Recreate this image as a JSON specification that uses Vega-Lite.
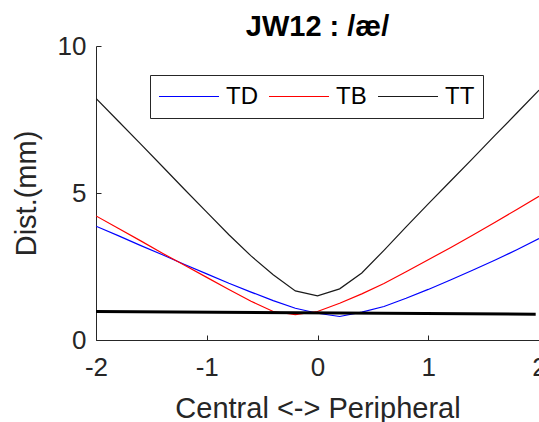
{
  "$schema": "https://vega.github.io/schema/vega-lite/v6.json",
  "width": 443,
  "height": 294,
  "autosize": {"type": "none"},
  "padding": {"left": 96, "top": 46, "right": 0, "bottom": 82},
  "background": "white",
  "title": {
    "text": "JW12 : /æ/",
    "font": "Liberation Sans",
    "fontSize": 29,
    "fontWeight": "bold",
    "color": "#000000",
    "anchor": "middle",
    "baseline": "alphabetic",
    "offset": -32
  },
  "config": {
    "view": {"stroke": null},
    "axis": {
      "grid": false,
      "domainColor": "#262626",
      "tickColor": "#262626",
      "labelColor": "#262626",
      "titleColor": "#262626",
      "labelFont": "Liberation Sans",
      "titleFont": "Liberation Sans",
      "labelFontSize": 26,
      "titleFontSize": 29,
      "titleFontWeight": "normal",
      "tickSize": -5,
      "domainWidth": 1,
      "tickWidth": 1
    }
  },
  "datasets": {
    "curves": [
      {"x": -2.0, "y": 3.87, "s": "TD"}, {"x": -1.8, "y": 3.55, "s": "TD"}, {"x": -1.6, "y": 3.22, "s": "TD"},
      {"x": -1.4, "y": 2.90, "s": "TD"}, {"x": -1.2, "y": 2.57, "s": "TD"}, {"x": -1.0, "y": 2.25, "s": "TD"},
      {"x": -0.8, "y": 1.93, "s": "TD"}, {"x": -0.6, "y": 1.63, "s": "TD"}, {"x": -0.4, "y": 1.34, "s": "TD"},
      {"x": -0.2, "y": 1.08, "s": "TD"}, {"x": 0.0, "y": 0.91, "s": "TD"}, {"x": 0.2, "y": 0.80, "s": "TD"},
      {"x": 0.4, "y": 0.95, "s": "TD"}, {"x": 0.6, "y": 1.14, "s": "TD"}, {"x": 0.8, "y": 1.42, "s": "TD"},
      {"x": 1.0, "y": 1.72, "s": "TD"}, {"x": 1.2, "y": 2.04, "s": "TD"}, {"x": 1.4, "y": 2.37, "s": "TD"},
      {"x": 1.6, "y": 2.71, "s": "TD"}, {"x": 1.8, "y": 3.07, "s": "TD"}, {"x": 2.0, "y": 3.45, "s": "TD"},
      {"x": -2.0, "y": 4.22, "s": "TB"}, {"x": -1.8, "y": 3.80, "s": "TB"}, {"x": -1.6, "y": 3.38, "s": "TB"},
      {"x": -1.4, "y": 2.95, "s": "TB"}, {"x": -1.2, "y": 2.54, "s": "TB"}, {"x": -1.0, "y": 2.13, "s": "TB"},
      {"x": -0.8, "y": 1.72, "s": "TB"}, {"x": -0.6, "y": 1.32, "s": "TB"}, {"x": -0.4, "y": 0.97, "s": "TB"},
      {"x": -0.2, "y": 0.86, "s": "TB"}, {"x": 0.0, "y": 0.97, "s": "TB"}, {"x": 0.2, "y": 1.25, "s": "TB"},
      {"x": 0.4, "y": 1.57, "s": "TB"}, {"x": 0.6, "y": 1.92, "s": "TB"}, {"x": 0.8, "y": 2.32, "s": "TB"},
      {"x": 1.0, "y": 2.73, "s": "TB"}, {"x": 1.2, "y": 3.14, "s": "TB"}, {"x": 1.4, "y": 3.56, "s": "TB"},
      {"x": 1.6, "y": 4.00, "s": "TB"}, {"x": 1.8, "y": 4.44, "s": "TB"}, {"x": 2.0, "y": 4.89, "s": "TB"},
      {"x": -2.0, "y": 8.22, "s": "TT"}, {"x": -1.8, "y": 7.45, "s": "TT"}, {"x": -1.6, "y": 6.68, "s": "TT"},
      {"x": -1.4, "y": 5.90, "s": "TT"}, {"x": -1.2, "y": 5.12, "s": "TT"}, {"x": -1.0, "y": 4.35, "s": "TT"},
      {"x": -0.8, "y": 3.58, "s": "TT"}, {"x": -0.6, "y": 2.86, "s": "TT"}, {"x": -0.4, "y": 2.22, "s": "TT"},
      {"x": -0.2, "y": 1.67, "s": "TT"}, {"x": 0.0, "y": 1.50, "s": "TT"}, {"x": 0.2, "y": 1.74, "s": "TT"},
      {"x": 0.4, "y": 2.28, "s": "TT"}, {"x": 0.6, "y": 3.05, "s": "TT"}, {"x": 0.8, "y": 3.85, "s": "TT"},
      {"x": 1.0, "y": 4.63, "s": "TT"}, {"x": 1.2, "y": 5.40, "s": "TT"}, {"x": 1.4, "y": 6.17, "s": "TT"},
      {"x": 1.6, "y": 6.95, "s": "TT"}, {"x": 1.8, "y": 7.72, "s": "TT"}, {"x": 2.0, "y": 8.50, "s": "TT"}
    ],
    "base": [
      {"x": -2.0, "y": 0.97},
      {"x": 1.97, "y": 0.88}
    ]
  },
  "layer": [
    {
      "data": {"name": "curves"},
      "mark": {"type": "line", "strokeWidth": 1.2, "clip": true},
      "encoding": {
        "x": {
          "field": "x", "type": "quantitative",
          "scale": {"domain": [-2, 2], "nice": false, "zero": false},
          "axis": {
            "values": [-2, -1, 0, 1, 2],
            "labelExpr": "'' + datum.value",
            "labelPadding": 19,
            "labelFlush": false,
            "title": "Central <-> Peripheral",
            "titleBaseline": "alphabetic",
            "titleX": 221.5,
            "titleY": 77,
            "titleAnchor": "middle",
            "titleAlign": "center"
          }
        },
        "y": {
          "field": "y", "type": "quantitative",
          "scale": {"domain": [0, 10], "nice": false, "zero": false},
          "axis": {
            "values": [0, 5, 10],
            "labelPadding": 15,
            "labelFlush": false,
            "title": "Dist.(mm)",
            "titleAngle": -90,
            "titleBaseline": "alphabetic",
            "titleX": -61,
            "titleY": 147,
            "titleAlign": "center"
          }
        },
        "color": {
          "field": "s", "type": "nominal",
          "scale": {"domain": ["TD", "TB", "TT"], "range": ["#0000ff", "#ff0000", "#1a1a1a"]},
          "legend": {
            "title": null,
            "orient": "none",
            "legendX": 54,
            "legendY": 29,
            "direction": "horizontal",
            "symbolType": "stroke",
            "symbolSize": 3600,
            "symbolStrokeWidth": 1.2,
            "labelFont": "Liberation Sans",
            "labelFontSize": 24,
            "labelColor": "#000000",
            "labelOffset": 6,
            "columnPadding": 10,
            "padding": 8,
            "clipHeight": 27,
            "strokeColor": "#262626",
            "fillColor": "#ffffff"
          }
        }
      }
    },
    {
      "data": {"name": "base"},
      "mark": {"type": "line", "strokeWidth": 3, "color": "#000000"},
      "encoding": {
        "x": {"field": "x", "type": "quantitative"},
        "y": {"field": "y", "type": "quantitative"}
      }
    }
  ]
}
